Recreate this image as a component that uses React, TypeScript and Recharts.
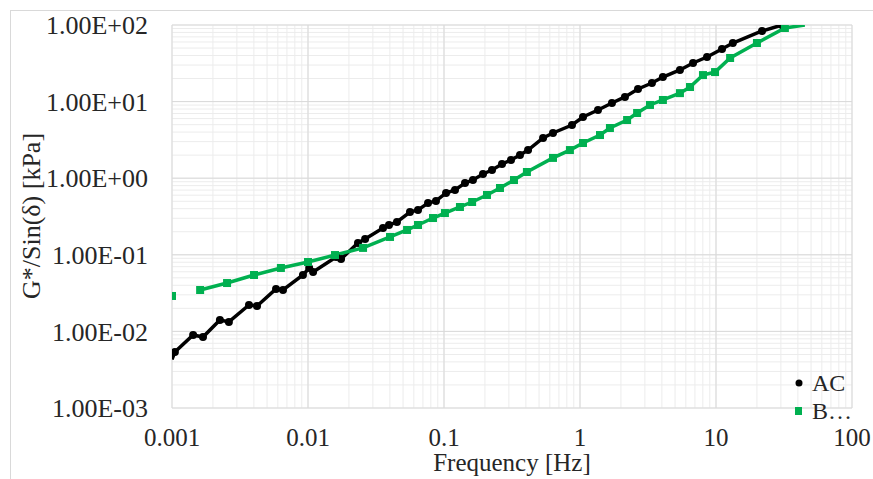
import {
  ComposedChart,
  Line,
  Scatter,
  XAxis,
  YAxis,
  CartesianGrid,
  ReferenceLine,
  Label,
} from 'recharts';

// AC master curve points [Hz, kPa]
const acFreq = [
  0.00105, 0.00143, 0.00169, 0.00225, 0.00262, 0.00368, 0.00422, 0.00582, 0.00655, 0.00918,
  0.0102, 0.0109, 0.0161, 0.0175, 0.0233, 0.0263, 0.0356, 0.0394, 0.0451, 0.0562,
  0.0644, 0.0763, 0.0873, 0.1035, 0.1205, 0.1427, 0.1633, 0.1935, 0.2254, 0.267,
  0.311, 0.362, 0.415, 0.535, 0.633, 0.873, 1.052, 1.356, 1.718, 2.14,
  2.67, 3.38, 4.07, 5.43, 6.78, 8.59, 11.07, 13.3, 21.8, 30.6,
];
const acModulus = [
  0.00538, 0.00897, 0.00845, 0.0141, 0.0133, 0.0221, 0.0215, 0.0358, 0.0347, 0.0545,
  0.0673, 0.0596, 0.0935, 0.0881, 0.1426, 0.1607, 0.224, 0.245, 0.268, 0.362,
  0.385, 0.474, 0.504, 0.641, 0.702, 0.865, 0.948, 1.134, 1.279, 1.53,
  1.73, 2.01, 2.33, 3.35, 3.89, 4.95, 6.3, 7.76, 9.59, 11.5,
  14.6, 17.5, 20.9, 25.9, 31.9, 38.2, 48.6, 58.2, 83.5, 100,
];
// fitted AC line starts a little below the first measured point
const acHeadFreq = [0.001];
const acHeadModulus = [0.0043];

// B… master curve points [Hz, kPa]
const bFreq = [
  0.00161, 0.00254, 0.00401, 0.00632, 0.01, 0.0158, 0.0254, 0.0401, 0.0535, 0.0644,
  0.083, 0.1016, 0.131, 0.161, 0.207, 0.258, 0.327, 0.407, 0.633, 0.843,
  1.052, 1.403, 1.66, 2.22, 2.63, 3.27, 4.07, 5.43, 6.44, 8.02,
  9.84, 12.7, 20.0, 32.1,
];
const bModulus = [
  0.0347, 0.0428, 0.0545, 0.0673, 0.0805, 0.0993, 0.123, 0.171, 0.211, 0.245,
  0.302, 0.351, 0.421, 0.489, 0.604, 0.745, 0.946, 1.205, 1.84, 2.33,
  2.88, 3.66, 4.52, 5.75, 7.1, 9.04, 10.5, 12.9, 15.5, 22.2,
  24.3, 37.1, 58.2, 91.4,
];
// lone B… point at the lowest frequency, and where its line leaves the plot
const bLoneFreq = [0.001];
const bLoneModulus = [0.029];
const bTailFreq = [45];
const bTailModulus = [100];

const xMajor = [0.001, 0.01, 0.1, 1, 10, 100];
const xLabels = ['0.001', '0.01', '0.1', '1', '10', '100'];
const yMajor = [0.001, 0.01, 0.1, 1, 10, 100];
const yLabels = ['1.00E-03', '1.00E-02', '1.00E-01', '1.00E+00', '1.00E+01', '1.00E+02'];
const steps = [1, 2, 3, 4, 5, 6, 7, 8, 9];

const toPoints = (fs: number[], gs: number[]) => fs.map((f, i) => ({ f, g: gs[i] }));

const acData = toPoints(acFreq, acModulus);
const acLine = [...toPoints(acHeadFreq, acHeadModulus), ...acData];
const bData = toPoints(bFreq, bModulus);
const bLone = toPoints(bLoneFreq, bLoneModulus);
const bLine = [...bData, ...toPoints(bTailFreq, bTailModulus)];

const withMinors = (majors: number[]) =>
  majors
    .slice(0, -1)
    .flatMap((d) => steps.map((s) => +(d * s).toPrecision(3)))
    .concat(majors[majors.length - 1]);

const xTicks = withMinors(xMajor);
const yTicks = withMinors(yMajor);

const labelFor = (majors: number[], labels: string[]) => (v: number) => {
  const i = majors.findIndex((m) => Math.abs(m - v) / m < 1e-6);
  return i >= 0 ? labels[i] : '';
};

const FONT = '"Liberation Serif", "Times New Roman", serif';
const TEXT = '#262626';
const GREEN = '#00b050';

const Dot = (props: any) => <circle cx={props.cx} cy={props.cy} r={4} fill="#000" />;
const Square = (props: any) => (
  <rect x={props.cx - 4} y={props.cy - 4} width={8} height={8} fill={GREEN} />
);

const legendRow = { display: 'flex', alignItems: 'center', height: 28 };
const legendText = { lineHeight: '20px' };

export default function App() {
  return (
    <div
      style={{
        position: 'absolute',
        left: 0,
        top: 0,
        width: 873,
        height: 479,
        overflow: 'hidden',
        background: '#fff',
        fontFamily: FONT,
      }}
    >
      <div
        style={{
          position: 'absolute',
          left: 10,
          top: 10,
          width: 900,
          height: 520,
          border: '1px solid #d9d9d9',
        }}
      />
      <ComposedChart
        width={873}
        height={479}
        margin={{ top: 25, right: 21, left: 0, bottom: 0 }}
        style={{ position: 'absolute', left: 0, top: 0 }}
      >
        <CartesianGrid stroke="#ececec" strokeWidth={1} />
        {xMajor.map((v) => (
          <ReferenceLine key={'x' + v} x={v} stroke="#d9d9d9" strokeWidth={1} />
        ))}
        {yMajor.map((v) => (
          <ReferenceLine key={'y' + v} y={v} stroke="#d9d9d9" strokeWidth={1} />
        ))}
        <XAxis
          type="number"
          dataKey="f"
          scale="log"
          domain={[0.001, 100]}
          allowDataOverflow
          ticks={xTicks}
          interval={0}
          tickFormatter={labelFor(xMajor, xLabels)}
          axisLine={false}
          tickLine={false}
          tickSize={0}
          tickMargin={20}
          height={71}
          tick={{ fill: TEXT, fontSize: 25, fontFamily: FONT }}
        >
          <Label
            value="Frequency [Hz]"
            position="insideBottom"
            offset={8}
            style={{ fill: TEXT, fontSize: 25, fontFamily: FONT }}
          />
        </XAxis>
        <YAxis
          type="number"
          dataKey="g"
          scale="log"
          domain={[0.001, 100]}
          allowDataOverflow
          ticks={yTicks}
          interval={0}
          tickFormatter={labelFor(yMajor, yLabels)}
          axisLine={false}
          tickLine={false}
          tickSize={0}
          tickMargin={24}
          width={172}
          tick={{ fill: TEXT, fontSize: 26, fontFamily: FONT }}
          label={{
            content: () => (
              <text
                x={40}
                y={216}
                transform="rotate(-90 40 216)"
                textAnchor="middle"
                fill={TEXT}
                fontSize={26}
                fontFamily={FONT}
              >
                G*/Sin(δ) [kPa]
              </text>
            ),
          }}
        />
        <Line
          data={acLine}
          dataKey="g"
          stroke="#000"
          strokeWidth={3.5}
          dot={false}
          activeDot={false}
          isAnimationActive={false}
        />
        <Line
          data={bLine}
          dataKey="g"
          stroke={GREEN}
          strokeWidth={3.5}
          dot={false}
          activeDot={false}
          isAnimationActive={false}
        />
        <Scatter data={acData} shape={Dot} isAnimationActive={false} />
        <Scatter data={bData} shape={Square} isAnimationActive={false} />
        <Scatter data={bLone} shape={Square} isAnimationActive={false} />
      </ComposedChart>

      {/* legend */}
      <div
        style={{
          position: 'absolute',
          left: 793,
          top: 369,
          color: TEXT,
          fontSize: 24,
        }}
      >
        <div style={legendRow}>
          <svg width={19} height={12}>
            <circle cx={6} cy={6} r={3.5} fill="#000" />
          </svg>
          <span style={legendText}>AC</span>
        </div>
        <div style={legendRow}>
          <svg width={19} height={12}>
            <rect x={2} y={2} width={7} height={8} fill={GREEN} />
          </svg>
          <span style={legendText}>B…</span>
        </div>
      </div>
    </div>
  );
}
